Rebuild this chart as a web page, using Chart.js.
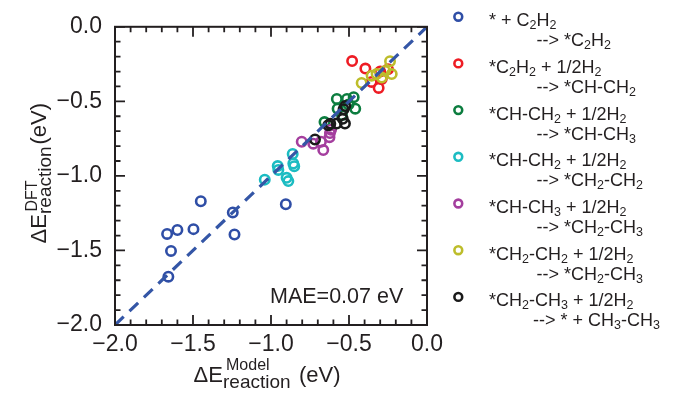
<!DOCTYPE html>
<html>
<head>
<meta charset="utf-8">
<script src="https://cdn.jsdelivr.net/npm/chart.js@4.4.1/dist/chart.umd.min.js"></script>
<style>
  html, body { margin: 0; padding: 0; background: #fff; }
  #wrap { width: 685px; height: 397px; position: relative; }
</style>
</head>
<body>
<div id="wrap"><canvas id="parityChart"></canvas></div>
<script>
// reaction steps (legend), two lines each
const reactions = [
  ["* + C2H2", "--> *C2H2"],
  ["*C2H2 + 1/2H2", "--> *CH-CH2"],
  ["*CH-CH2 + 1/2H2", "--> *CH-CH3"],
  ["*CH-CH2 + 1/2H2", "--> *CH2-CH2"],
  ["*CH-CH3 + 1/2H2", "--> *CH2-CH3"],
  ["*CH2-CH2 + 1/2H2", "--> *CH2-CH3"],
  ["*CH2-CH3 + 1/2H2", "--> * + CH3-CH3"]
];
const colors = ["#2f4ea6", "#ee1c24", "#0c7d3f", "#1cbcc2", "#a43e9e", "#bdbd2b", "#1a1a1a"];

// model (x) and DFT (y) reaction energies, eV
const c2h2Model = [-1.45, -1.245, -1.234, -1.497, -1.60, -1.666, -1.641, -1.658, -0.905];
const c2h2Dft   = [-1.17, -1.245, -1.393, -1.357, -1.363, -1.389, -1.503, -1.676, -1.19];
const chch2Model = [-0.48, -0.395, -0.30, -0.355, -0.31, -0.29, -0.25];
const chch2Dft   = [-0.23, -0.28, -0.30, -0.37, -0.41, -0.35, -0.285];
const chch3Model = [-0.657, -0.578, -0.513, -0.47, -0.46, -0.573, -0.545, -0.503];
const chch3Dft   = [-0.639, -0.484, -0.484, -0.472, -0.549, -0.549, -0.592, -0.521];
const ch2ch2Model = [-1.04, -0.957, -0.953, -0.90, -0.889, -0.861, -0.857, -0.851];
const ch2ch2Dft   = [-1.025, -0.934, -0.96, -1.013, -1.035, -0.853, -0.917, -0.935];
const ch2ch3aModel = [-0.803, -0.729, -0.665, -0.68, -0.622, -0.622, -0.625, -0.615];
const ch2ch3aDft   = [-0.771, -0.784, -0.827, -0.771, -0.713, -0.66, -0.74, -0.69];
const ch2ch3bModel = [-0.419, -0.355, -0.323, -0.237, -0.226, -0.269, -0.29];
const ch2ch3bDft   = [-0.377, -0.328, -0.317, -0.231, -0.317, -0.296, -0.34];
const ch3ch3Model = [-0.718, -0.633, -0.62, -0.579, -0.526, -0.524, -0.535, -0.54];
const ch3ch3Dft   = [-0.756, -0.66, -0.65, -0.649, -0.649, -0.532, -0.553, -0.617];

const parityLine = [-2, 0];
const axisMin = -2, axisMax = 0;
const maeText = "MAE=0.07 eV";

const seriesX = [c2h2Model, chch2Model, chch3Model, ch2ch2Model, ch2ch3aModel, ch2ch3bModel, ch3ch3Model];
const seriesY = [c2h2Dft, chch2Dft, chch3Dft, ch2ch2Dft, ch2ch3aDft, ch2ch3bDft, ch3ch3Dft];

const FONT = '"Liberation Sans", Arial, Helvetica, sans-serif';
const INK = "#231f20";

function fmt(v) {
  const s = Number(v).toFixed(1);
  return s === "-0.0" ? "0.0" : s.replace("-", "\u2212");
}

// draw text, digits right after a letter go to subscript
function drawRich(ctx, text, x, y, size, subSize, subDy) {
  let cx = x;
  for (let i = 0; i < text.length; i++) {
    const ch = text[i];
    const isSub = /\d/.test(ch) && i > 0 && /[A-Z]/.test(text[i - 1]);
    ctx.font = (isSub ? subSize : size) + "px " + FONT;
    ctx.fillText(ch, cx, isSub ? y + subDy : y);
    cx += ctx.measureText(ch).width;
  }
}

function drawAxisTitle(ctx, sup, o) {
  ctx.font = "22px " + FONT;
  ctx.fillText("\u0394E", 0, 0);
  ctx.font = "16px " + FONT;
  ctx.fillText(sup, o.supX, o.supY);
  ctx.font = "19px " + FONT;
  ctx.fillText("reaction", o.subX, o.subY);
  ctx.font = "22px " + FONT;
  ctx.fillText("(eV)", o.evX, 0);
}

// frame with inward major/minor ticks on all four sides
const framePlugin = {
  id: "frame",
  afterDraw(chart) {
    const ctx = chart.ctx;
    const area = chart.chartArea;
    const xs = chart.scales.x, ys = chart.scales.y;
    ctx.save();
    ctx.strokeStyle = INK;
    ctx.lineWidth = 2;
    ctx.strokeRect(area.left, area.top, area.right - area.left, area.bottom - area.top);
    ctx.lineWidth = 1.8;
    for (let i = 0; i <= 20; i++) {
      const v = axisMin + i * 0.1;
      const len = i % 5 === 0 ? 10 : 5.5;
      const px = xs.getPixelForValue(v);
      const py = ys.getPixelForValue(v);
      ctx.beginPath();
      ctx.moveTo(px, area.bottom); ctx.lineTo(px, area.bottom - len);
      ctx.moveTo(px, area.top); ctx.lineTo(px, area.top + len);
      ctx.moveTo(area.left, py); ctx.lineTo(area.left + len, py);
      ctx.moveTo(area.right, py); ctx.lineTo(area.right - len, py);
      ctx.stroke();
    }
    ctx.restore();
  }
};

const decorPlugin = {
  id: "decor",
  afterDraw(chart) {
    const ctx = chart.ctx;
    const { right, bottom } = chart.chartArea;
    ctx.save();
    ctx.fillStyle = INK;
    ctx.textBaseline = "alphabetic";
    ctx.textAlign = "left";
    ctx.font = "21.5px " + FONT;
    ctx.fillText(maeText, right - 157, bottom - 22);

    // axis titles
    ctx.save();
    ctx.translate(193.5, 381.7);
    drawAxisTitle(ctx, "Model", { supX: 32.5, supY: -11.7, subX: 29.5, subY: 6.6, evX: 105.5 });
    ctx.restore();
    ctx.save();
    ctx.translate(46, 243.5);
    ctx.rotate(-Math.PI / 2);
    drawAxisTitle(ctx, "DFT", { supX: 32, supY: -9, subX: 29.5, subY: 5, evX: 99 });
    ctx.restore();

    // legend
    reactions.forEach((lines, i) => {
      const cy = 16.7 + i * 46.7;
      ctx.beginPath();
      ctx.strokeStyle = colors[i];
      ctx.lineWidth = 2.6;
      ctx.arc(458.3, cy, 3.9, 0, Math.PI * 2);
      ctx.stroke();
      ctx.fillStyle = INK;
      drawRich(ctx, lines[0], 489, cy + 9.5, 18, 12.5, 3);
      drawRich(ctx, lines[1], i === 6 ? 533 : 536.5, cy + 29.5, 18, 12.5, 3);
    });
    ctx.restore();
  }
};

const datasets = [{
  label: "parity",
  data: parityLine.map((v) => ({ x: v, y: v })),
  showLine: true,
  borderColor: "#3456a6",
  borderWidth: 3.2,
  borderDash: [12, 8],
  pointRadius: 0,
  fill: false
}];
// draw order: first dataset ends on top
const drawOrder = [6, 5, 4, 2, 3, 1, 0];
drawOrder.forEach((k) => {
  datasets.push({
    label: reactions[k].join(" "),
    data: seriesX[k].map((x, j) => ({ x: x, y: seriesY[k][j] })),
    borderColor: colors[k],
    backgroundColor: "rgba(0,0,0,0)",
    pointRadius: 4.7,
    pointBorderWidth: 2.6,
    pointHoverRadius: 4.7
  });
});

new Chart(document.getElementById("parityChart"), {
  type: "scatter",
  data: { datasets: datasets },
  options: {
    responsive: true,
    maintainAspectRatio: false,
    animation: false,
    events: [],
    layout: { padding: { left: 0, top: 14, right: 258, bottom: 0 } },
    plugins: { legend: { display: false }, tooltip: { enabled: false } },
    scales: {
      x: {
        type: "linear",
        min: axisMin,
        max: axisMax,
        grid: { display: false, drawTicks: false },
        border: { display: false },
        ticks: {
          stepSize: 0.5,
          padding: 6,
          color: INK,
          font: { family: FONT, size: 23 },
          callback: (v) => fmt(v)
        },
        afterFit: (scale) => { scale.height = 72; }
      },
      y: {
        type: "linear",
        min: axisMin,
        max: axisMax,
        grid: { display: false, drawTicks: false },
        border: { display: false },
        ticks: {
          stepSize: 0.5,
          padding: 13,
          color: INK,
          font: { family: FONT, size: 23 },
          callback: (v) => fmt(v)
        },
        afterFit: (scale) => { scale.width = 115; }
      }
    }
  },
  plugins: [framePlugin, decorPlugin]
});
</script>
</body>
</html>
